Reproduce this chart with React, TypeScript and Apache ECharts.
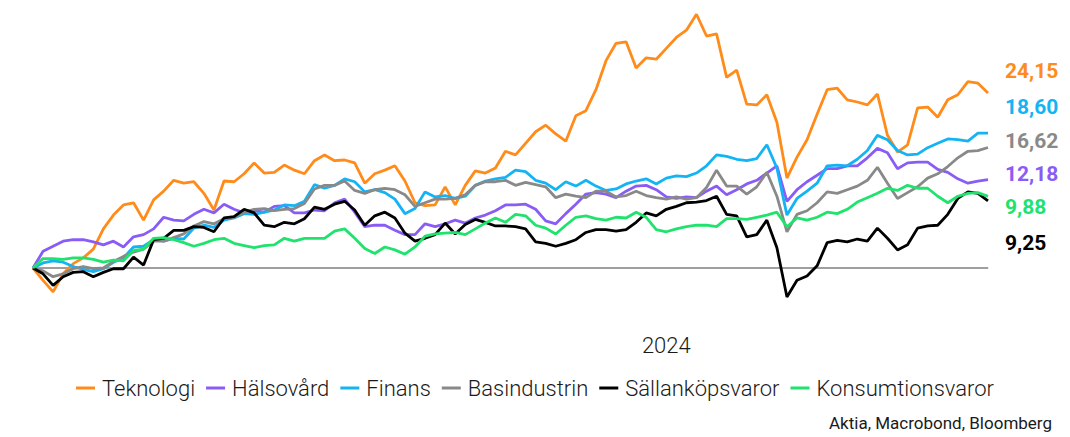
import { useEffect, useRef } from "react";
import * as echarts from "echarts";

const seriesNames = ["Teknologi", "Hälsovård", "Finans", "Basindustrin", "Sällanköpsvaror", "Konsumtionsvaror"];
const seriesColors = ["#ff8c1a", "#8a5cf6", "#14b4f4", "#898989", "#000000", "#20e36e"];

const teknologi = [0, -1.7, -3.3, -0.8, 0.6, 1.4, 2.6, 5.4, 7.3, 8.7, 9.0, 6.6, 9.4, 10.6, 12.1, 11.7, 11.9, 10.3, 8.0, 12.0, 11.9, 13.0, 14.5, 13.1, 13.2, 14.2, 13.5, 13.0, 14.8, 15.6, 14.8, 14.9, 14.5, 11.7, 13.0, 13.5, 14.1, 12.0, 9.0, 8.6, 8.7, 11.2, 8.7, 11.4, 13.4, 13.1, 13.8, 16.1, 15.6, 17.2, 18.8, 19.7, 18.5, 17.5, 21.0, 21.7, 24.6, 28.6, 31.0, 31.2, 27.6, 29.0, 28.8, 30.3, 31.8, 32.8, 35.0, 32.0, 32.3, 26.3, 27.3, 22.6, 22.5, 23.9, 20.1, 12.4, 15.3, 17.7, 21.2, 24.6, 24.8, 23.2, 22.9, 22.5, 24.0, 18.3, 16.0, 17.0, 22.1, 22.2, 20.8, 23.2, 23.9, 25.7, 25.5, 24.15];
const halsovard = [0, 2.3, 3.0, 3.7, 3.9, 3.9, 3.6, 3.2, 3.7, 2.9, 4.3, 4.6, 5.4, 7.0, 6.6, 6.5, 7.4, 8.1, 7.6, 8.8, 8.1, 7.6, 7.9, 7.7, 8.5, 8.6, 7.6, 7.6, 8.0, 7.9, 9.0, 9.5, 7.7, 5.7, 5.9, 5.9, 5.2, 4.6, 4.6, 6.1, 5.7, 6.1, 6.6, 6.2, 6.9, 7.3, 7.9, 8.7, 8.7, 8.8, 8.1, 6.5, 6.1, 7.5, 8.8, 10.2, 10.4, 10.2, 9.7, 10.6, 11.3, 11.4, 10.8, 9.8, 9.6, 9.8, 9.7, 10.6, 11.3, 10.1, 10.8, 11.6, 12.1, 13.1, 14.1, 9.2, 10.8, 11.9, 12.8, 13.7, 13.7, 14.1, 14.1, 15.2, 16.5, 15.9, 13.7, 14.5, 14.6, 14.6, 13.6, 13.2, 12.3, 11.7, 12.0, 12.18];
const finans = [0, 0.7, 1.0, 0.8, 0.2, -0.2, -0.5, -0.1, 0.8, 1.4, 2.9, 3.0, 3.9, 3.7, 4.1, 4.0, 5.5, 5.9, 5.6, 6.6, 6.9, 7.5, 7.4, 7.7, 8.0, 8.7, 8.6, 9.2, 11.5, 11.0, 11.4, 12.3, 11.9, 10.5, 10.8, 10.4, 9.5, 7.5, 8.2, 10.5, 9.8, 10.0, 9.6, 9.9, 11.4, 12.0, 12.3, 12.5, 13.5, 13.3, 12.1, 11.7, 10.8, 11.9, 11.3, 12.1, 11.3, 10.7, 10.9, 11.6, 12.0, 12.3, 11.6, 12.4, 12.7, 12.6, 13.1, 14.1, 15.6, 15.4, 15.0, 14.8, 15.1, 17.0, 13.8, 7.3, 9.6, 10.6, 11.7, 14.1, 14.2, 14.1, 15.0, 16.2, 18.3, 17.7, 16.2, 15.6, 15.7, 16.6, 17.2, 17.8, 17.7, 17.5, 18.6, 18.6];
const basindustrin = [0, -0.4, -1.2, -0.8, -0.1, 0.2, -0.1, 0, 0.9, 1.6, 2.2, 2.6, 3.7, 3.7, 4.2, 4.7, 5.8, 6.4, 6.1, 6.8, 7.0, 7.7, 8.1, 8.2, 7.9, 8.1, 8.2, 8.9, 10.9, 11.4, 11.4, 12.0, 10.7, 10.3, 10.8, 11.0, 10.8, 10.1, 8.5, 9.0, 9.5, 9.5, 9.6, 10.1, 11.4, 11.9, 11.9, 12.1, 11.4, 11.8, 11.5, 11.2, 9.7, 10.2, 9.9, 9.7, 10.6, 10.6, 9.8, 10.0, 10.6, 10.0, 9.7, 9.5, 9.8, 9.5, 9.7, 11.1, 13.5, 11.3, 11.3, 10.2, 11.2, 13.2, 9.9, 5.0, 7.4, 7.9, 9.0, 10.5, 10.3, 10.8, 11.3, 12.1, 13.9, 11.7, 9.6, 10.4, 11.2, 12.4, 13.0, 14.0, 15.2, 16.1, 16.2, 16.62];
const sallankopsvaror = [0, -0.8, -2.4, -1.2, -0.6, -0.5, -1.2, -0.6, -0.1, -0.1, 1.5, 0.4, 3.9, 4.1, 5.2, 5.2, 5.7, 5.6, 5.0, 6.9, 7.1, 8.1, 7.6, 5.9, 5.7, 6.3, 6.1, 6.8, 8.4, 8.1, 8.8, 9.2, 8.0, 5.9, 7.2, 7.7, 6.9, 4.8, 3.7, 4.1, 4.6, 6.2, 4.7, 6.0, 6.7, 6.3, 5.8, 5.8, 5.7, 5.4, 3.6, 3.4, 3.0, 3.4, 3.9, 4.9, 5.3, 5.3, 5.1, 5.3, 6.3, 7.6, 7.2, 8.1, 8.5, 9.0, 9.1, 9.3, 9.9, 7.4, 7.2, 4.3, 4.6, 6.6, 2.8, -4.0, -1.7, -1.1, 0.3, 3.5, 3.8, 3.6, 4.0, 3.7, 5.5, 4.1, 2.5, 3.2, 5.5, 5.8, 5.9, 7.4, 9.6, 10.5, 10.3, 9.25];
const konsumtionsvaror = [0, 1.3, 1.3, 1.2, 1.4, 1.4, 1.2, 0.8, 1.1, 1.0, 2.4, 2.6, 4.1, 4.2, 3.9, 3.5, 3.0, 3.4, 3.9, 4.1, 3.4, 3.1, 2.8, 3.1, 3.2, 4.1, 3.7, 4.1, 4.1, 4.1, 5.1, 5.4, 4.1, 2.7, 2.0, 2.9, 2.5, 1.9, 2.9, 4.4, 4.7, 4.8, 4.9, 4.6, 5.4, 6.2, 6.9, 6.3, 7.4, 7.2, 5.9, 5.5, 4.7, 5.9, 7.0, 7.2, 6.8, 6.6, 7.0, 6.9, 7.7, 7.0, 5.3, 5.0, 5.4, 5.7, 5.9, 5.9, 5.7, 6.8, 6.8, 6.7, 7.0, 7.3, 7.7, 5.7, 6.9, 6.6, 7.0, 7.7, 7.5, 8.1, 9.1, 9.7, 10.3, 11.0, 10.7, 11.4, 11.0, 11.0, 9.9, 9.0, 9.9, 10.3, 10.4, 9.88];

const seriesData = [teknologi, halsovard, finans, basindustrin, sallankopsvaror, konsumtionsvaror];

const yearLabel = "2024";
const yearLabelIndex = 63;
const sourceText = "Aktia, Macrobond, Bloomberg";

const FONT = "Roboto, 'Noto Sans', sans-serif";

export default function App() {
  const ref = useRef<HTMLDivElement>(null);

  useEffect(() => {
    document.body.style.margin = "0";
    if (!ref.current) return;
    const chart = echarts.init(ref.current, null, { renderer: "svg" });

    const n = teknologi.length;
    const categories = Array.from({ length: n }, (_, i) => String(i));

    // End labels sorted by final value (top to bottom)
    const order = seriesNames
      .map((name, i) => ({ name, i, last: seriesData[i][seriesData[i].length - 1] }))
      .sort((a, b) => b.last - a.last);
    const labelYs = [72, 108, 142, 175, 208, 244];
    const endLabels = order.map((o, k) => ({
      type: "text",
      left: 1005,
      top: labelYs[k] - 12,
      style: {
        text: o.last.toFixed(2).replace(".", ","),
        fill: seriesColors[o.i],
        font: `bold 21px ${FONT}`,
      },
    }));

    chart.setOption({
      animation: false,
      grid: { left: 33, right: 82, top: 10, bottom: 116, containLabel: false },
      xAxis: {
        type: "category",
        boundaryGap: false,
        data: categories,
        axisLine: { show: true, lineStyle: { color: "#c8c8c8", width: 1.5 } },
        axisTick: { show: false },
        splitLine: { show: false },
        axisLabel: {
          interval: 0,
          margin: 13,
          fontSize: 22,
          fontFamily: FONT,
          fontWeight: 300,
          color: "#1a1a1a",
          formatter: (_v: string, idx: number) => (idx === yearLabelIndex ? yearLabel : ""),
        },
      },
      yAxis: {
        type: "value",
        min: -7.31,
        max: 35.59,
        axisLine: { show: false },
        axisTick: { show: false },
        axisLabel: { show: false },
        splitLine: { show: false },
      },
      legend: {
        left: "center",
        top: 372,
        icon: "rect",
        itemWidth: 19,
        itemHeight: 3,
        itemGap: 11,
        textStyle: { fontSize: 22, fontFamily: FONT, color: "#1a1a1a", fontWeight: 300, padding: [0, 0, 0, 2] },
        data: seriesNames,
      },
      series: seriesNames.map((name, i) => ({
        name,
        type: "line",
        data: seriesData[i],
        showSymbol: false,
        symbol: "none",
        lineStyle: { width: 2.8, color: seriesColors[i] },
        itemStyle: { color: seriesColors[i] },
        z: 3,
        markLine:
          i === 0
            ? {
                silent: true,
                symbol: "none",
                label: { show: false },
                lineStyle: { color: "#8c8c8c", width: 1.5, type: "solid" },
                data: [{ yAxis: 0 }],
                z: 1,
              }
            : undefined,
      })),
      graphic: [
        ...endLabels,
        {
          type: "text",
          right: 18,
          top: 414,
          style: { text: sourceText, fill: "#1a1a1a", font: `17px ${FONT}` },
        },
      ],
    });

    return () => chart.dispose();
  }, []);

  return <div ref={ref} style={{ width: 1070, height: 437 }} />;
}
